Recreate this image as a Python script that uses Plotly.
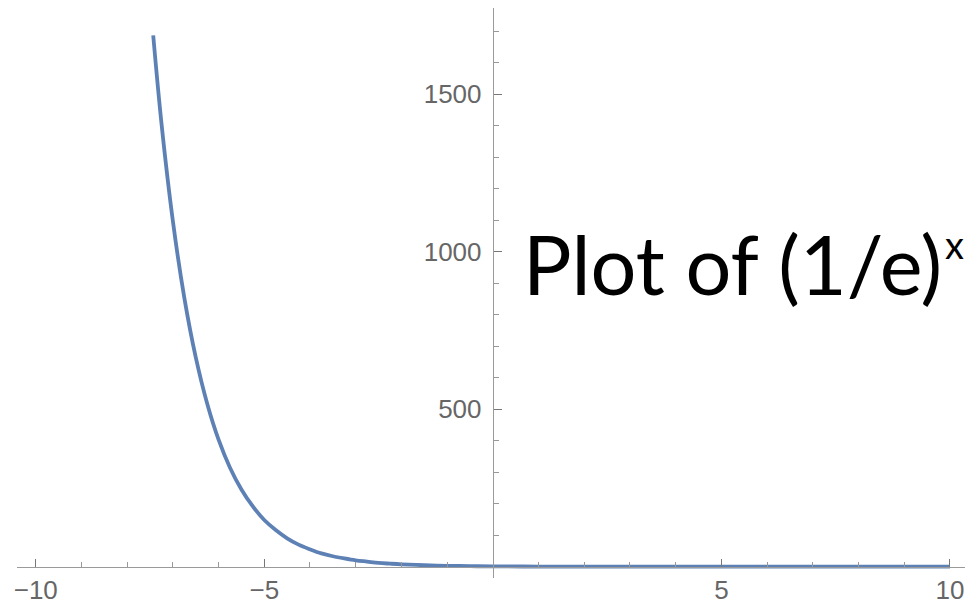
import plotly.graph_objects as go

# values
x_vals = [-7.43, -7.25, -7.0, -6.75, -6.5, -6.25, -6.0, -5.75, -5.5, -5.25, -5.0,
          -4.75, -4.5, -4.25, -4.0, -3.75, -3.5, -3.25, -3.0, -2.75, -2.5, -2.25,
          -2.0, -1.5, -1.0, -0.5, 0.0, 1.0, 2.0, 3.0, 5.0, 7.5, 10.0]
y_vals = [1686, 1408, 1097, 854, 665, 518, 403, 314, 245, 191, 148,
          116, 90, 70, 55, 42, 33, 26, 20, 16, 12, 9.5,
          7.4, 4.5, 2.7, 1.6, 1.0, 0.37, 0.14, 0.05, 0.007, 0.0006, 0.00005]

x_major = [-10, -5, 5, 10]
x_minor = [-9, -8, -7, -6, -4, -3, -2, -1, 1, 2, 3, 4, 6, 7, 8, 9]
y_major = [500, 1000, 1500]
y_minor = [100, 200, 300, 400, 600, 700, 800, 900, 1100, 1200, 1300, 1400, 1600, 1700]

title_text = "Plot of (1/e)"
title_sup = "x"

W, H = 965, 603
ml, mr, mt, mb = 17, 0, 8, 25
pw, ph = W - ml - mr, H - mt - mb
x_range = [-10.41, 10.33]
y_range = [-36, 1773]

axis_col = "#9a9a9a"
lab_col = "#666666"

fig = go.Figure()
fig.add_trace(go.Scatter(x=x_vals, y=y_vals, mode="lines",
                         line=dict(color="#5E81B5", width=3.8, shape="spline", smoothing=1.0),
                         hoverinfo="skip", showlegend=False))

x0_px = ml + (0 - x_range[0]) / (x_range[1] - x_range[0]) * pw
y0_frac = (0 - y_range[0]) / (y_range[1] - y_range[0])

fig.update_layout(
    width=W, height=H,
    margin=dict(l=ml, r=mr, t=mt, b=mb, autoexpand=False),
    paper_bgcolor="white", plot_bgcolor="white",
    xaxis=dict(range=x_range, anchor="free", position=y0_frac, automargin=False,
               showgrid=False, zeroline=False, showline=True, linecolor=axis_col, linewidth=1.2,
               tickmode="array", tickvals=x_major, ticks="inside", ticklen=8, tickcolor="#777",
               tickwidth=1,
               minor=dict(tickmode="array", tickvals=x_minor, ticks="inside", ticklen=5,
                          tickcolor="#999", tickwidth=1, showgrid=False),
               tickfont=dict(family="Liberation Sans", size=26, color=lab_col),
               ticklabelstandoff=0),
    yaxis=dict(range=y_range, anchor="free", position=(x0_px - ml) / pw, automargin=False,
               showgrid=False, zeroline=False, showline=True, linecolor=axis_col, linewidth=1.2,
               tickmode="array", tickvals=y_major, ticks="inside", ticklen=8, tickcolor="#777",
               tickwidth=1,
               minor=dict(tickmode="array", tickvals=y_minor, ticks="inside", ticklen=5,
                          tickcolor="#999", tickwidth=1, showgrid=False),
               tickfont=dict(family="Liberation Sans", size=26, color=lab_col),
               ticklabelstandoff=6),
)

fig.add_annotation(text=title_text, xref="paper", yref="paper",
                   x=(521 - ml) / pw, y=(H - mb - 263) / ph, xanchor="left", yanchor="middle",
                   showarrow=False, font=dict(family="Lato", size=81, color="black"))
fig.add_annotation(text=title_sup, xref="paper", yref="paper",
                   x=(943 - ml) / pw, y=(H - mb - 244) / ph, xanchor="left", yanchor="middle",
                   showarrow=False, font=dict(family="Lato", size=38, color="black"))

fig.write_html("out.html", config={"displayModeBar": False},
               post_script="document.body.style.margin='0px';document.body.style.overflow='hidden';")
